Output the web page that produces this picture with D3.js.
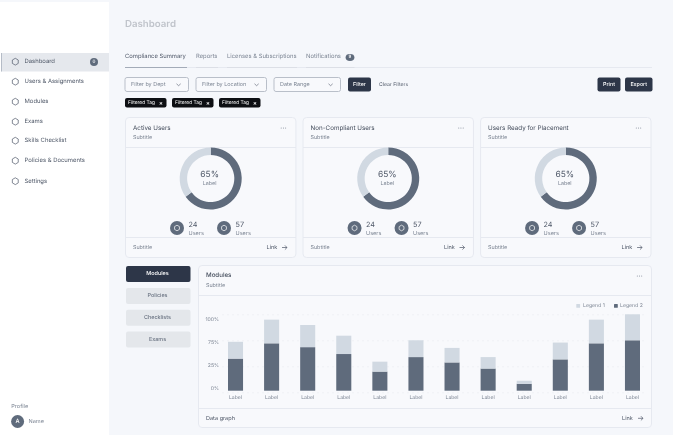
<!DOCTYPE html>
<html>
<head>
<meta charset="utf-8">
<script src="https://cdn.jsdelivr.net/npm/d3@7"></script>
<style>
  html, body { margin: 0; padding: 0; background: #f5f7fb; overflow: hidden; }
  svg { display: block; filter: blur(0.3px); }
  text { font-family: Inter, "Noto Sans", sans-serif; text-rendering: geometricPrecision; }
</style>
</head>
<body>
<svg id="canvas" width="673" height="435"></svg>
<script>
// chart values
let navItems = ['Dashboard', 'Users & Assignments', 'Modules', 'Exams', 'Skills Checklist', 'Policies & Documents', 'Settings'];
let tabNames = ['Compliance Summary', 'Reports', 'Licenses & Subscriptions', 'Notifications'];
let filterNames = ['Filter by Dept', 'Filter by Location', 'Date Range'];
let tagNames = ['Filtered Tag', 'Filtered Tag', 'Filtered Tag'];
let cardTitles = ['Active Users', 'Non-Compliant Users', 'Users Ready for Placement'];
let donutPercent = [65, 65, 65];
let statValues = [24, 57];
let sideButtons = ['Modules', 'Policies', 'Checklists', 'Exams'];
let barLabels = ['Label', 'Label', 'Label', 'Label', 'Label', 'Label', 'Label', 'Label', 'Label', 'Label', 'Label', 'Label'];
let legend2Values = [42, 62, 57, 48, 25, 44, 37, 29, 9, 41, 62, 66];
let legend1Values = [22, 31, 29, 24, 13, 22, 19, 15, 4, 22, 31, 34];
let yTickLabels = ['0%', '25%', '75%', '100%'];

// colours
let dark = '#2d3648', slate = '#5f6b7c', pale = '#d1d9e2', line = '#e6e9f0';
let textMain = '#4f5868', textSoft = '#7d8694', cardFill = '#f8f9fc';

let canvas = d3.select('#canvas');

let label = (parent, x, y, str, size, fill, weight, anchor) => {
  return parent.append('text').
  attr('x', x).
  attr('y', y + 0.5).
  attr('font-size', size * 1.03).
  attr('fill', fill).
  attr('font-weight', weight || 400).
  attr('text-anchor', anchor || 'start').
  attr('dominant-baseline', 'central').
  text(str);
};

let box = (parent, x, y, w, h, r, fill, stroke) => {
  return parent.append('rect').
  attr('x', x).
  attr('y', y).
  attr('width', w).
  attr('height', h).
  attr('rx', r).
  attr('fill', fill).
  attr('stroke', stroke || 'none');
};

let hexagon = (parent, cx, cy, r, stroke) => {
  let pts = d3.range(6).map(i => {
    let a = Math.PI / 3 * i;
    return [cx + r * Math.sin(a), cy - r * Math.cos(a)];
  });
  parent.append('path').
  attr('d', d3.line().curve(d3.curveLinearClosed)(pts)).
  attr('fill', 'none').
  attr('stroke', stroke).
  attr('stroke-width', 0.7);
};

let hline = (parent, x1, x2, y, color, dash) => {
  parent.append('line').
  attr('x1', x1).
  attr('x2', x2).
  attr('y1', y).
  attr('y2', y).
  attr('stroke', color).
  attr('stroke-dasharray', dash || null);
};

let dots = (parent, cx, cy) => {
  [-2.2, 0, 2.2].forEach(d => {
    parent.append('circle').attr('cx', cx + d).attr('cy', cy).attr('r', 0.5).attr('fill', textSoft);
  });
};

let arrow = (parent, x, y) => {
  parent.append('path').
  attr('d', `M${x} ${y}h5M${x + 2.9} ${y - 2.1}l2.1 2.1l-2.1 2.1`).
  attr('fill', 'none').
  attr('stroke', textMain).
  attr('stroke-width', 0.7);
};

let chevron = (parent, x, y) => {
  parent.append('path').
  attr('d', `M${x} ${y}l2.1 1.9l2.1 -1.9`).
  attr('fill', 'none').
  attr('stroke', textMain).
  attr('stroke-width', 0.6);
};

// sidebar
let drawSidebar = () => {
  let side = canvas.append('g');
  box(side, 0, 2, 109, 433, 0, '#ffffff');
  box(side, 1, 53, 108, 18.5, 0, '#e5e8ed');
  box(side, 1, 53, 0.8, 18.5, 0, '#a9b1bd');

  let navY = [61, 81, 101, 121, 140, 160, 180.5];
  navItems.forEach((name, i) => {
    hexagon(side, 15.3, navY[i] + 0.7, 3.4, textMain);
    label(side, 24.5, navY[i], name, 5.75, textMain, 400);
  });
  side.append('circle').attr('cx', 94).attr('cy', 62).attr('r', 4).attr('fill', slate);
  label(side, 94, 61.6, '0', 4.4, '#ffffff', 500, 'middle');

  label(side, 11.3, 406.8, 'Profile', 5.4, textSoft);
  side.append('circle').attr('cx', 17.6).attr('cy', 421.5).attr('r', 6.5).attr('fill', slate);
  label(side, 17.6, 421.1, 'A', 5.6, '#ffffff', 500, 'middle');
  label(side, 28.5, 421, 'Name', 5.4, textSoft);
};

// heading, tabs, filters
let drawHeader = () => {
  let head = canvas.append('g');
  label(head, 125, 23.7, 'Dashboard', 9.4, '#c0c4cb', 600);

  hline(head, 125, 652, 67.5, line);
  let tabX = [[125, 187], [196, 218], [227, 297], [306, 354.5]];
  tabNames.forEach((name, i) => {
    label(head, tabX[i][0], 56.3, name, 5.7, i === 0 ? textMain : textSoft, 400);
    hline(head, tabX[i][0], tabX[i][1], 67.5, i === 0 ? '#a3abb8' : '#dcdfe6');
  });
  head.append('ellipse').attr('cx', 350).attr('cy', 57.5).attr('rx', 4.4).attr('ry', 3.4).attr('fill', slate);
  label(head, 350, 57.1, '9', 4.3, '#ffffff', 500, 'middle');

  let filterX = [[125, 63.5], [196, 70.5], [274, 66.5]];
  filterNames.forEach((name, i) => {
    box(head, filterX[i][0], 77.5, filterX[i][1], 14, 2, cardFill, '#b9bfc9');
    label(head, filterX[i][0] + 6, 84.2, name, 5.3, textSoft);
    chevron(head, filterX[i][0] + filterX[i][1] - 12, 83.8);
  });

  let btn = (x, w, str) => {
    box(head, x, 77.5, w, 14, 2, dark);
    label(head, x + w / 2, 84.2, str, 5.2, '#ffffff', 500, 'middle');
  };
  btn(348, 23, 'Filter');
  label(head, 379, 84.7, 'Clear Filters', 5, textMain, 400);
  btn(597.5, 23, 'Print');
  btn(625, 27.5, 'Export');

  tagNames.forEach((name, i) => {
    let x = 125 + i * 47;
    box(head, x, 98, 41.5, 9.5, 2, '#0d0f13');
    label(head, x + 3, 102.7, name, 4.7, '#ffffff', 400);
    label(head, x + 36, 102.7, '\u00d7', 5.6, '#ffffff', 600, 'middle');
  });
};

// three donut cards
let drawCards = () => {
  let cardX = d3.scaleBand().domain(d3.range(cardTitles.length)).range([125, 651.5]).paddingInner(0.0345);
  let pie = d3.pie().sort(null);
  let arc = d3.arc().innerRadius(23.6).outerRadius(31);

  cardTitles.forEach((title, i) => {
    let x = cardX(i), w = cardX.bandwidth();
    let card = canvas.append('g');
    box(card, x + 0.5, 117.5, w - 1, 140, 3.5, cardFill, line);
    hline(card, x + 0.5, x + w - 0.5, 147.5, line);
    hline(card, x + 0.5, x + w - 0.5, 237.5, line);

    label(card, x + 8, 127, title, 6.1, '#444d5c', 400);
    label(card, x + 8, 137, 'Subtitle', 5.2, textSoft);
    dots(card, x + w - 13, 128);

    let cx = x + 85.7, cy = 178.5;
    let donut = card.append('g').attr('transform', `translate(${cx},${cy})`);
    donut.selectAll('path').
    data(pie([donutPercent[i], 100 - donutPercent[i]])).
    enter().
    append('path').
    attr('d', arc).
    attr('fill', (d, j) => j === 0 ? slate : pale);
    label(card, cx - 1, 174, donutPercent[i] + '%', 8.2, textMain, 400, 'middle');
    label(card, cx - 1, 183.5, 'Label', 5.2, textSoft, 400, 'middle');

    statValues.forEach((v, j) => {
      let sx = x + 52 + j * 47;
      card.append('circle').attr('cx', sx).attr('cy', 228).attr('r', 7).attr('fill', slate);
      hexagon(card, sx, 228, 2.8, '#ffffff');
      label(card, sx + 11.5, 224.3, v, 7, textMain, 400);
      label(card, sx + 11.5, 233.3, 'Users', 5.4, textSoft);
    });

    label(card, x + 8, 247.3, 'Subtitle', 5.2, textSoft);
    label(card, x + 141.5, 247.3, 'Link', 5.4, textMain);
    arrow(card, x + 157, 247.5);
  });
};

// side buttons and the stacked bars
let drawModules = () => {
  let g = canvas.append('g');
  let btnY = [266, 288, 309.7, 331.5];
  sideButtons.forEach((name, i) => {
    box(g, 126, btnY[i], 64.5, 16, 2, i === 0 ? dark : '#e4e7eb');
    label(g, 157.5, btnY[i] + 7.6, name, 5.3, i === 0 ? '#ffffff' : '#6b7483', 500, 'middle');
  });

  box(g, 198.5, 265.5, 453, 162, 3.5, cardFill, line);
  hline(g, 198.5, 651.5, 295.5, line);
  hline(g, 198.5, 651.5, 408.5, line);
  label(g, 206, 275, 'Modules', 6, '#444d5c', 500);
  label(g, 206, 285.3, 'Subtitle', 5.2, textSoft);
  dots(g, 639.5, 276);

  let x = d3.scaleBand().domain(d3.range(barLabels.length)).range([228, 640]).paddingInner(0.583).paddingOuter(0);
  let y = d3.scaleLinear().domain([0, 100]).range([390.7, 314.3]);

  // gridlines and tick labels are not lined up in the reference, so each has its own scale
  let gridY = d3.scalePoint().domain(yTickLabels).range([392.3, 314.3]);
  let tickY = d3.scalePoint().domain(yTickLabels).range([388, 318.7]);

  let gridAxis = d3.axisLeft(gridY).tickSize(-(645 - 222)).tickFormat('');
  let gridG = g.append('g').attr('transform', 'translate(222,0)').call(gridAxis);
  gridG.select('.domain').remove();
  gridG.selectAll('.tick line').attr('stroke', '#eff1f5').attr('stroke-dasharray', '2 3');

  let tickAxis = d3.axisLeft(tickY).tickSize(0).tickPadding(0);
  let tickG = g.append('g').attr('transform', 'translate(219,0)').call(tickAxis);
  tickG.select('.domain').remove();
  tickG.selectAll('text').attr('font-size', 5.1).attr('fill', textSoft).attr('font-family', 'Inter');

  let stack = d3.stack().keys(['legend2', 'legend1']);
  let rows = barLabels.map((d, i) => ({ index: i, legend2: legend2Values[i], legend1: legend1Values[i] }));
  let colors = { legend2: slate, legend1: pale };

  g.selectAll('g.series').
  data(stack(rows)).
  enter().
  append('g').
  attr('class', 'series').
  attr('fill', s => colors[s.key]).
  selectAll('rect').
  data(s => s).
  enter().
  append('rect').
  attr('x', d => x(d.data.index)).
  attr('y', d => y(d[1])).
  attr('width', x.bandwidth()).
  attr('height', d => y(d[0]) - y(d[1]));

  let xAxis = d3.axisBottom(x).tickSize(0).tickPadding(0).tickFormat(i => barLabels[i]);
  let xG = g.append('g').attr('transform', 'translate(0,395.5)').call(xAxis);
  xG.select('.domain').remove();
  xG.selectAll('text').attr('font-size', 5.1).attr('fill', textSoft).attr('font-family', 'Inter');

  box(g, 576.3, 304, 3.8, 3.8, 0.6, pale);
  label(g, 583, 305.6, 'Legend 1', 5, textSoft);
  box(g, 614, 304, 3.8, 3.8, 0.6, slate);
  label(g, 620, 305.6, 'Legend 2', 5, textSoft);

  label(g, 206, 418, 'Data graph', 5.4, textMain);
  label(g, 622, 418, 'Link', 5.4, textMain);
  arrow(g, 638, 418.3);
};

drawSidebar();
drawHeader();
drawCards();
drawModules();
</script>
</body>
</html>
